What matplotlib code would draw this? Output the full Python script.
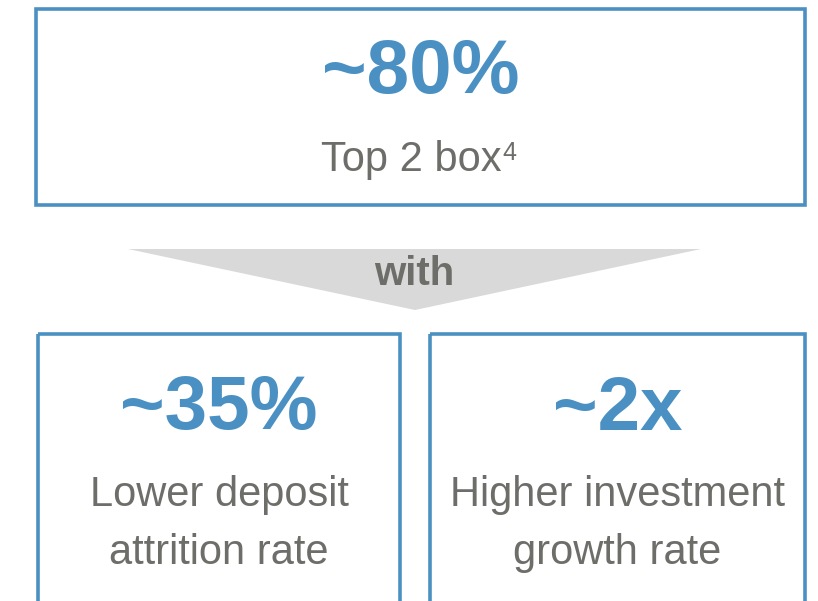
import matplotlib.pyplot as plt
from matplotlib.patches import Rectangle, Polygon

plt.rcParams["font.family"] = ["Liberation Sans", "DejaVu Sans"]

blue = "#4a90c2"
gray = "#6d6d69"

# headline stats
top_value = "~80%"
top_label = "Top 2 box"
top_note = "4"
link_word = "with"
bottom_values = ["~35%", "~2x"]
bottom_labels = ["Lower deposit\nattrition rate", "Higher investment\ngrowth rate"]

fig = plt.figure(figsize=(8.18, 6.01), dpi=100)
ax = fig.add_axes([0, 0, 1, 1])
ax.set_xlim(0, 818)
ax.set_ylim(601, 0)
ax.axis("off")

# top box
ax.add_patch(Rectangle((36, 9), 769, 196, fill=False, ec=blue, lw=2.6))
ax.text(421, 74, top_value, ha="center", va="center", fontsize=55,
        fontweight="bold", color=blue)
lbl = ax.text(411, 160, top_label, ha="center", va="center", fontsize=30,
              color=gray)
ax.annotate(top_note, xy=(1, 1), xycoords=lbl, xytext=(0.5, -0.5),
            textcoords="offset points", ha="left", va="top", fontsize=18,
            color=gray)

# arrow
ax.add_patch(Polygon([(128, 249), (701, 249), (415, 310)], closed=True,
                     fc="#d9d9d9", ec="none"))
ax.text(414, 274, link_word, ha="center", va="center", fontsize=29,
        fontweight="bold", color=gray)

# bottom boxes
box_x = [38, 430]
box_w = [362, 375]
for i in range(2):
    ax.add_patch(Rectangle((box_x[i], 334), box_w[i], 300, fill=False,
                           ec=blue, lw=2.6))
    cx = box_x[i] + box_w[i] / 2
    ax.text(cx, 410, bottom_values[i], ha="center", va="center", fontsize=55,
            fontweight="bold", color=blue)
    ax.text(cx, 524, bottom_labels[i], ha="center", va="center", fontsize=30,
            color=gray, linespacing=1.55)

fig.savefig("out.png", dpi=100)
